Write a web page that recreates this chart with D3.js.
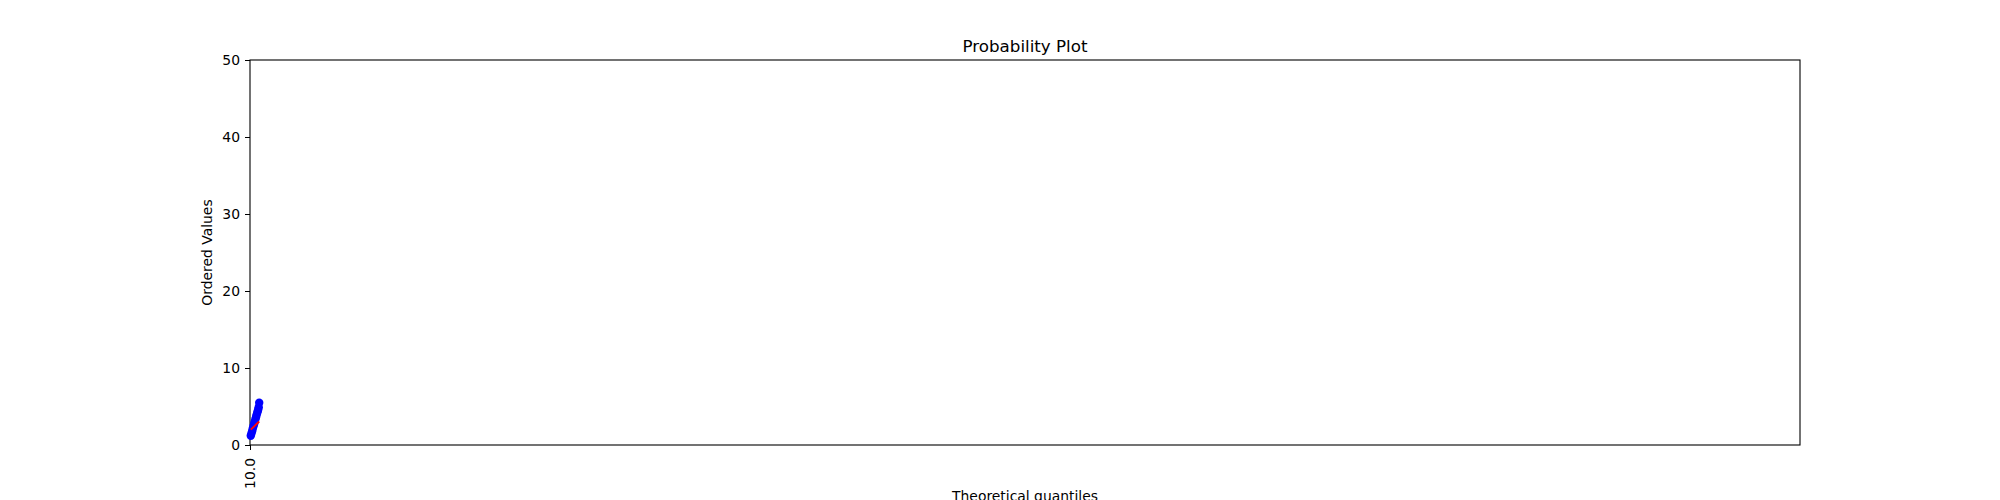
<!DOCTYPE html>
<html><head><meta charset="utf-8">
<script src="https://cdn.jsdelivr.net/npm/d3@7"></script>
<style>
html,body{margin:0;padding:0;background:#fff;}
text{font-family:"DejaVu Sans",sans-serif;fill:#000;}
</style></head>
<body>
<svg id="c" width="2000" height="500"></svg>
<script>
const quantiles = [10.08,10.15,10.22,10.28,10.35,10.42,10.48,10.55,10.62,10.68,10.75,10.80,10.85,10.90,10.95];
const orderedValues = [1.2,1.5,1.8,2.1,2.4,2.7,3.0,3.3,3.6,3.9,4.2,4.4,4.6,4.9,5.5];
const fitX = [10.08,10.95];
const fitY = [2.0,3.06];
const xTicks = [10.0];
const yTicks = [0,10,20,30,40,50];

const svg = d3.select("#c");
const L=250,R=1800,T=60,B=445;
const x = d3.scaleLinear().domain([10,170]).range([L,R]);
const y = d3.scaleLinear().domain([0,50]).range([B,T]);

const xa = svg.append("g").attr("transform",`translate(0,${B})`)
  .call(d3.axisBottom(x).tickValues(xTicks).tickFormat(d3.format(".1f")).tickSize(5).tickPadding(5));
xa.select(".domain").remove();
xa.selectAll("text").attr("font-size","13.9px").attr("transform","rotate(-90)")
  .attr("text-anchor","end").attr("x",-13).attr("y",0).attr("dy","0.35em").attr("dx",0);
xa.selectAll("line").attr("stroke","#000").attr("stroke-width",1);

const ya = svg.append("g").attr("transform",`translate(${L},0)`)
  .call(d3.axisLeft(y).tickValues(yTicks).tickSize(5).tickPadding(5));
ya.select(".domain").remove();
ya.selectAll("text").attr("font-size","13.9px");
ya.selectAll("line").attr("stroke","#000");

svg.append("rect").attr("x",L).attr("y",T).attr("width",R-L).attr("height",B-T)
  .attr("fill","none").attr("stroke","#000").attr("stroke-width",1.1);

svg.append("g").selectAll("circle").data(quantiles).join("circle")
  .attr("cx",d=>x(d)).attr("cy",(d,i)=>y(orderedValues[i])).attr("r",4.2)
  .attr("fill","#0000ff");

svg.append("path").datum(fitX.map((d,i)=>[d,fitY[i]]))
  .attr("d",d3.line().x(d=>x(d[0])).y(d=>y(d[1])))
  .attr("stroke","#ff0000").attr("stroke-width",2).attr("fill","none");

svg.append("text").attr("x",(L+R)/2).attr("y",51.5).attr("text-anchor","middle")
  .attr("font-size","16.7px").text("Probability Plot");
svg.append("text").attr("x",(L+R)/2).attr("y",501).attr("text-anchor","middle")
  .attr("font-size","13.9px").text("Theoretical quantiles");
svg.append("text").attr("transform",`translate(212,${(T+B)/2}) rotate(-90)`).attr("text-anchor","middle")
  .attr("font-size","13.9px").text("Ordered Values");
</script>
</body></html>
